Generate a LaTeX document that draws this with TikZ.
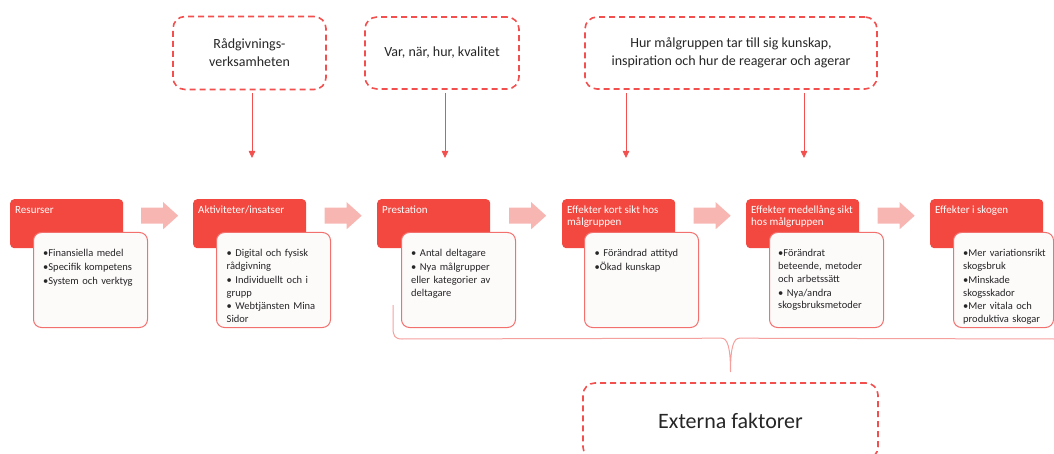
\documentclass[tikz,border=0pt]{standalone}
\usepackage{fontspec}
\setmainfont{Carlito}
\usetikzlibrary{calc,arrows.meta}
\definecolor{hdrred}{RGB}{242,72,64}
\definecolor{subred}{RGB}{242,112,110}
\definecolor{subfill}{RGB}{253,250,250}
\definecolor{barrowc}{RGB}{248,182,178}
\definecolor{dashred}{RGB}{242,80,78}
\definecolor{bracec}{RGB}{246,160,158}
\definecolor{txtgray}{RGB}{38,38,38}
\newcommand{\myitem}[2][5pt]{\par\hangindent=#1\hangafter=1\noindent #2}
\begin{document}
\begin{tikzpicture}[x=1pt,y=-1pt,
  hdr/.style={fill=hdrred, draw=none, rounded corners=4pt, minimum width=113pt, minimum height=49pt, anchor=north west, inner sep=0pt},
  hdrtxt/.style={text=white, font=\fontsize{11}{12}\selectfont, align=left, anchor=north west, inner sep=0pt},
  subbox/.style={draw=subred, line width=1pt, fill=subfill, rounded corners=8pt, minimum width=114pt, minimum height=95pt, anchor=north west, inner sep=0pt},
  subtxt/.style={text=txtgray, font=\fontsize{10.5}{12.7}\selectfont, text width=110pt, align=left, anchor=north west, inner sep=0pt, execute at begin node=\setlength{\parskip}{1pt}},
  dbox/.style={draw=dashred, dash pattern=on 6pt off 4pt, line width=1.6pt, rounded corners=12pt, align=center, text=txtgray, font=\fontsize{14}{18}\selectfont, inner sep=0pt},
  barrow/.style={fill=barrowc, draw=none},
  varrow/.style={draw=dashred, line width=0.8pt, -{Triangle[width=6.5pt,length=7pt]}},
  bracestyle/.style={draw=bracec, line width=1pt}
]
\useasboundingbox (0,0) rectangle (1054,454);

% top dashed boxes
\node[dbox, minimum width=153pt, minimum height=73pt] (rad) at (249.5,53) {Rådgivnings-\\verksamheten};
\node[dbox, minimum width=154pt, minimum height=72pt] (var) at (442,53) {Var, när, hur, kvalitet};
\node[dbox, minimum width=292pt, minimum height=72pt] (hur) at (731,53) {Hur målgruppen tar till sig kunskap,\\inspiration och hur de reagerar och agerar};

% vertical arrows
\coordinate (a1) at (252,158);
\coordinate (a2) at (445,158);
\coordinate (a3) at (626,158);
\coordinate (a4) at (804,158);
\draw[varrow, shorten <=3pt] (a1 |- rad.south) -- (a1);
\draw[varrow, shorten <=3pt] (a2 |- var.south) -- (a2);
\draw[varrow, shorten <=3pt] (a3 |- hur.south) -- (a3);
\draw[varrow, shorten <=3pt] (a4 |- hur.south) -- (a4);

% headers
\node[hdr] (h1) at (10,199) {};
\node[hdr] (h2) at (193,199) {};
\node[hdr] (h3) at (377,199) {};
\node[hdr] (h4) at (562,199) {};
\node[hdr] (h5) at (746,199) {};
\node[hdr] (h6) at (930,199) {};

\node[hdrtxt] (h1t) at ([xshift=5pt,yshift=-7pt]h1.north west) {Resurser};
\node[hdrtxt] (h2t) at ([xshift=5pt,yshift=-7pt]h2.north west) {Aktiviteter/insatser};
\node[hdrtxt] (h3t) at ([xshift=5pt,yshift=-7pt]h3.north west) {Prestation};
\node[hdrtxt] (h4t) at ([xshift=5pt,yshift=-7pt]h4.north west) {Effekter kort sikt hos\\målgruppen};
\node[hdrtxt] (h5t) at ([xshift=5pt,yshift=-7pt]h5.north west) {Effekter medellång sikt\\hos målgruppen};
\node[hdrtxt] (h6t) at ([xshift=5pt,yshift=-7pt]h6.north west) {Effekter i skogen};

% block arrows
\foreach \a/\b [count=\i] in {h1/h2,h2/h3,h3/h4,h4/h5,h5/h6}{
  \coordinate (m\i) at ($(\a.east)!0.5!(\b.west)+(1.5,-8)$);
  \fill[barrow] (m\i) ++(-18.5,-8) -- ++(22,0) -- ++(0,-5.5) -- ++(15,13.5) -- ++(-15,13.5) -- ++(0,-5.5) -- ++(-22,0) -- cycle;
}

% sub boxes
\node[subbox] (s1) at (33,232) {};
\node[subbox] (s2) at (216,232) {};
\node[subbox] (s3) at (401,232) {};
\node[subbox] (s4) at (584,232) {};
\node[subbox] (s5) at (769,232) {};
\node[subbox, minimum width=100pt] (s6) at (953,232) {};

\node[subtxt] (s1t) at ([xshift=10pt,yshift=-11pt]s1.north west) {%
\myitem{\textbullet Finansiella medel}
\myitem{\textbullet Specifik kompetens}
\myitem{\textbullet System och verktyg}};
\node[subtxt] (s2t) at ([xshift=10.5pt,yshift=-11pt]s2.north west) {%
\myitem[0pt]{\textbullet\ Digital och fysisk\\rådgivning}
\myitem[0pt]{\textbullet\ Individuellt och i\\grupp}
\myitem[0pt]{\textbullet\ Webtjänsten Mina\\Sidor}};
\node[subtxt] (s3t) at ([xshift=10pt,yshift=-11pt]s3.north west) {%
\myitem[4pt]{\textbullet\ Antal deltagare}
\myitem[4pt]{\textbullet\ Nya målgrupper\\eller kategorier av\\deltagare}};
\node[subtxt] (s4t) at ([xshift=10.5pt,yshift=-11pt]s4.north west) {%
\myitem{\textbullet\ Förändrad attityd}
\myitem{\textbullet Ökad kunskap}};
\node[subtxt] (s5t) at ([xshift=9pt,yshift=-11pt]s5.north west) {%
\myitem{\textbullet Förändrat\\beteende, metoder\\och arbetssätt}
\myitem{\textbullet\ Nya/andra\\skogsbruksmetoder}};
\node[subtxt] (s6t) at ([xshift=10pt,yshift=-11pt]s6.north west) {%
\myitem{\textbullet Mer variationsrikt\\skogsbruk}
\myitem{\textbullet Minskade\\skogsskador}
\myitem{\textbullet Mer vitala och\\produktiva skogar}};

% external factors
\node[dbox, minimum width=295pt, minimum height=76pt, font=\fontsize{22}{26}\selectfont] (ext) at (730.5,421) {Externa faktorer};
\coordinate (tip) at ($(ext.north)+(0,-10)$);
\coordinate (bl) at (393,305);
\coordinate (br) at (1054,339);
\draw[bracestyle] (bl) -- ++(0,23) .. controls +(0,8) and +(-7,0) .. ++(9,11) -- ($(tip)+(-9,-34)$) .. controls +(6,0) and +(0,-25) .. (tip) .. controls +(0,-25) and +(-6,0) .. ($(tip)+(9,-34)$) -- (br);
\end{tikzpicture}
\end{document}
